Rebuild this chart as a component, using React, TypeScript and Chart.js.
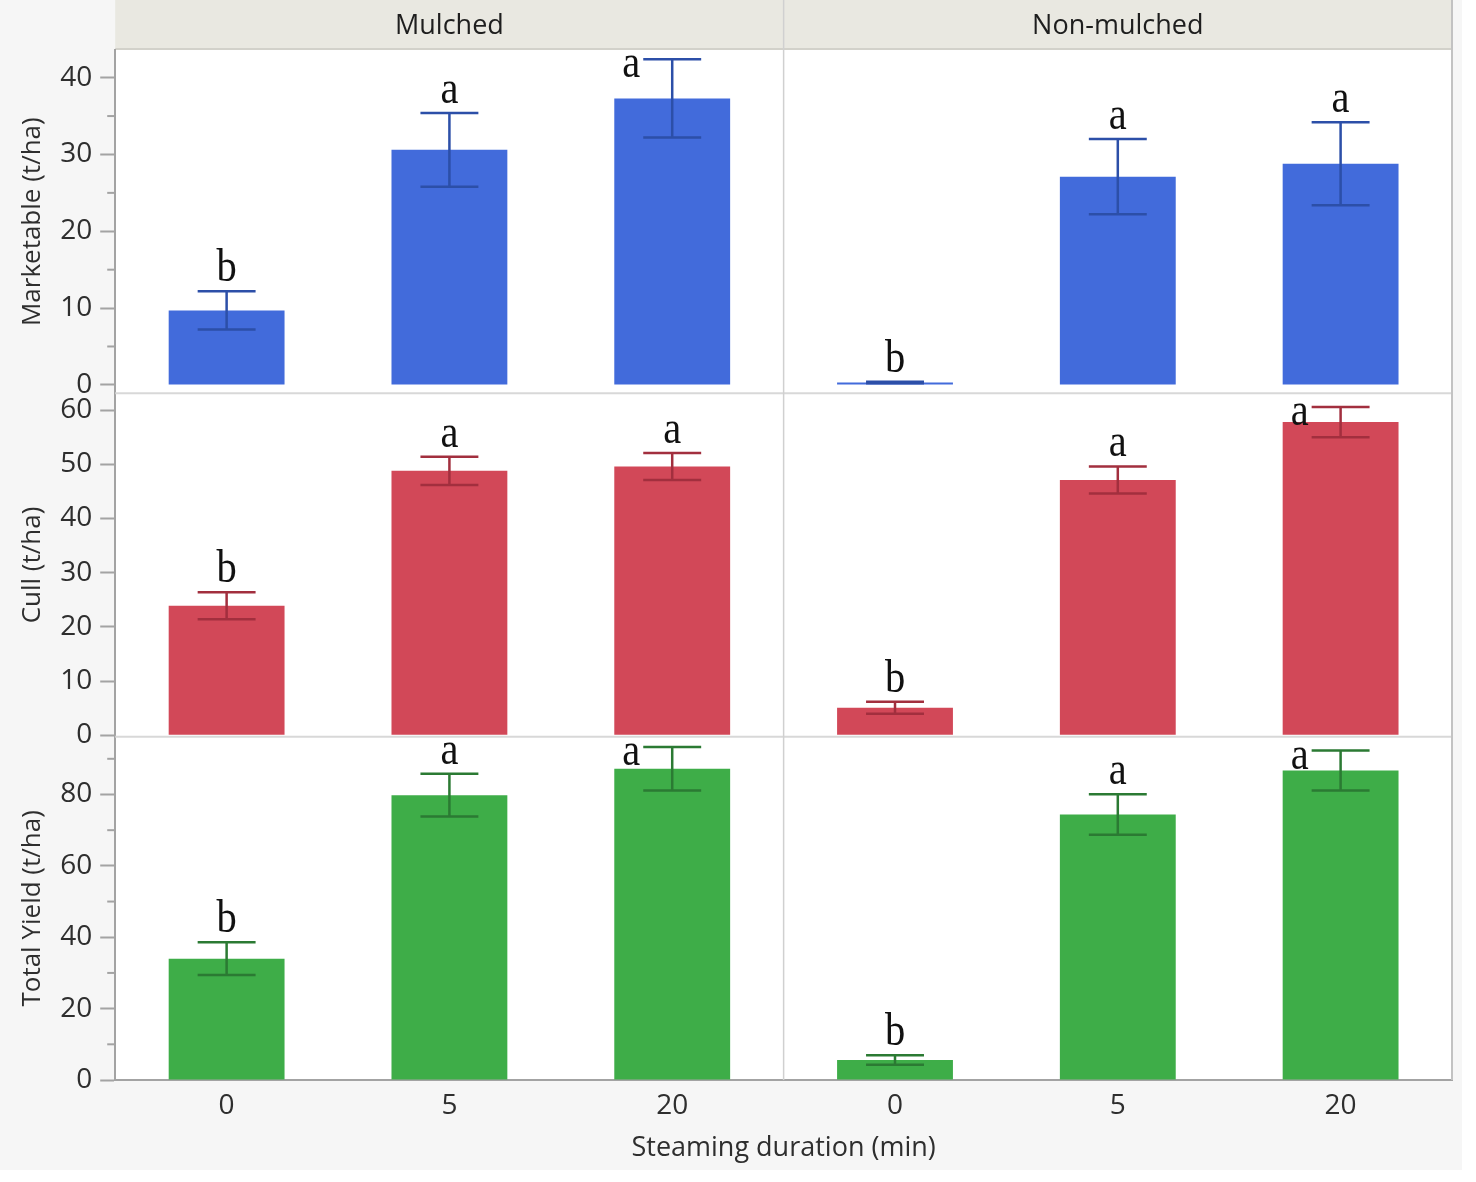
import { useEffect, useRef } from 'react';
import { Chart, registerables } from 'chart.js';

Chart.register(...registerables);

// steaming duration (min), three per mulch group
const durations = ['0', '5', '20', '0', '5', '20'];
const mulchGroups = ['Mulched', 'Non-mulched'];

const marketable = [9.7, 30.6, 37.3, 0.3, 27.1, 28.8];
const marketableSE = [2.5, 4.8, 5.1, 0.1, 4.9, 5.4];
const marketableLetters = ['b', 'a', 'a', 'b', 'a', 'a'];

const cull = [23.9, 48.8, 49.6, 5.1, 47.1, 57.8];
const cullSE = [2.5, 2.6, 2.5, 1.1, 2.5, 2.8];
const cullLetters = ['b', 'a', 'a', 'b', 'a', 'a'];

const totalYield = [34.0, 79.8, 87.2, 5.6, 74.4, 86.7];
const totalYieldSE = [4.6, 6.0, 6.1, 1.3, 5.7, 5.6];
const totalYieldLetters = ['b', 'a', 'a', 'b', 'a', 'a'];

const SANS = '"Open Sans", "Noto Sans", sans-serif';
const AXIS_GREY = '#a3a3a3';

const panelPlugin = {
  id: 'panelDecor',
  beforeDraw(chart: any) {
    const { ctx, chartArea: a, scales } = chart;
    const xs = scales.x;
    ctx.save();
    ctx.fillStyle = '#ffffff';
    ctx.fillRect(a.left, a.top, a.right - a.left, a.bottom - a.top);

    // facet header strip
    ctx.fillStyle = '#e9e8e1';
    ctx.fillRect(a.left, 0, a.right - a.left, a.top - 2);
    ctx.strokeStyle = '#d2d1ca';
    ctx.lineWidth = 2;
    ctx.beginPath();
    ctx.moveTo(a.left, a.top - 1);
    ctx.lineTo(a.right, a.top - 1);
    ctx.stroke();

    ctx.fillStyle = '#1e1e1e';
    ctx.font = `27px ${SANS}`;
    ctx.textAlign = 'center';
    ctx.textBaseline = 'middle';
    mulchGroups.forEach((g, i) => {
      const cx = (xs.getPixelForValue(i * 3) + xs.getPixelForValue(i * 3 + 2)) / 2;
      ctx.fillText(g, cx, (a.top - 2) / 2 + 2);
    });
    ctx.restore();
  },
  beforeDatasetsDraw(chart: any) {
    const { ctx, chartArea: a, scales } = chart;
    const xs = scales.x;
    ctx.save();
    ctx.strokeStyle = '#d8d8d8';
    ctx.lineWidth = 2;
    ['yCull', 'yTotal'].forEach((id) => {
      const y = scales[id].top;
      ctx.beginPath();
      ctx.moveTo(a.left, y);
      ctx.lineTo(a.right, y);
      ctx.stroke();
    });
    const mid = (xs.getPixelForValue(2) + xs.getPixelForValue(3)) / 2;
    ctx.strokeStyle = '#d0d0d0';
    ctx.lineWidth = 1.5;
    ctx.beginPath();
    ctx.moveTo(mid, 0);
    ctx.lineTo(mid, a.bottom);
    ctx.stroke();
    ctx.strokeStyle = '#c2c2c2';
    ctx.lineWidth = 2;
    ctx.beginPath();
    ctx.moveTo(a.right, 0);
    ctx.lineTo(a.right, a.bottom);
    ctx.stroke();
    ctx.restore();
  },
  afterDatasetsDraw(chart: any) {
    const { ctx, scales } = chart;
    chart.data.datasets.forEach((ds: any, i: number) => {
      const meta = chart.getDatasetMeta(i);
      const ys = scales[ds.yAxisID];
      meta.data.forEach((bar: any, j: number) => {
        const v = ds.data[j];
        const se = ds.se[j];
        const hi = ys.getPixelForValue(v + se);
        const lo = ys.getPixelForValue(v - se);
        const half = bar.width * 0.25;
        ctx.save();
        ctx.strokeStyle = ds.errColor;
        ctx.lineWidth = 2.5;
        ctx.beginPath();
        ctx.moveTo(bar.x, hi);
        ctx.lineTo(bar.x, lo);
        ctx.moveTo(bar.x - half, hi);
        ctx.lineTo(bar.x + half, hi);
        ctx.moveTo(bar.x - half, lo);
        ctx.lineTo(bar.x + half, lo);
        ctx.stroke();

        // significance letter; tucked beside the cap when it would leave the panel
        ctx.fillStyle = '#111111';
        ctx.font = '46px "Liberation Serif", "Times New Roman", serif';
        ctx.textBaseline = 'alphabetic';
        let tx = bar.x;
        let ty = hi - 10;
        if (hi - ys.top < 25) {
          ctx.textAlign = 'right';
          tx = bar.x - half - 3;
          ty = hi + 18;
        } else {
          ctx.textAlign = 'center';
        }
        ctx.translate(tx, ty);
        ctx.scale(0.88, 1);
        ctx.fillText(ds.letters[j], 0, 0);
        ctx.restore();
      });
    });
  },
  afterDraw(chart: any) {
    // short minor tick marks
    const { ctx, scales } = chart;
    ctx.save();
    ctx.strokeStyle = AXIS_GREY;
    ctx.lineWidth = 2;
    ['yMarket', 'yCull', 'yTotal'].forEach((id) => {
      const s = scales[id];
      s.ticks.forEach((t: any) => {
        if (t.value % s.options.labelEvery === 0) return;
        const y = s.getPixelForValue(t.value);
        ctx.beginPath();
        ctx.moveTo(s.right - 8, y);
        ctx.lineTo(s.right, y);
        ctx.stroke();
      });
    });
    ctx.restore();
  },
};

function yAxis(title: string, min: number, max: number, step: number, labelEvery: number, weight: number) {
  return {
    type: 'linear',
    position: 'left',
    stack: 'rows',
    stackWeight: 1,
    weight,
    min,
    max,
    labelEvery,
    border: { color: AXIS_GREY, width: 2 },
    grid: {
      drawOnChartArea: false,
      tickLength: 15,
      tickWidth: 2,
      tickColor: (c: any) => (c.tick && c.tick.value % labelEvery === 0 ? AXIS_GREY : 'transparent'),
    },
    ticks: {
      stepSize: step,
      includeBounds: false,
      autoSkip: false,
      padding: 8,
      color: '#2e2e2e',
      font: { family: SANS, size: 28 },
      callback: (v: number) => (v % labelEvery === 0 ? String(v) : ''),
    },
    title: {
      display: true,
      text: title,
      color: '#2e2e2e',
      font: { family: SANS, size: 26 },
      padding: { top: 17, bottom: 4 },
    },
  };
}

export default function App() {
  const canvasRef = useRef<HTMLCanvasElement>(null);

  useEffect(() => {
    if (!canvasRef.current) return;
    const chart = new Chart(canvasRef.current, {
      type: 'bar',
      data: {
        labels: durations,
        datasets: [
          {
            label: 'Marketable',
            data: marketable,
            se: marketableSE,
            letters: marketableLetters,
            yAxisID: 'yMarket',
            backgroundColor: '#426bdb',
            errColor: '#2c4fa8',
          },
          {
            label: 'Cull',
            data: cull,
            se: cullSE,
            letters: cullLetters,
            yAxisID: 'yCull',
            backgroundColor: '#d24858',
            errColor: '#a22f3e',
          },
          {
            label: 'Total Yield',
            data: totalYield,
            se: totalYieldSE,
            letters: totalYieldLetters,
            yAxisID: 'yTotal',
            backgroundColor: '#3ead48',
            errColor: '#2b7a33',
          },
        ] as any,
      },
      options: {
        animation: false,
        responsive: true,
        maintainAspectRatio: false,
        layout: { padding: { top: 50, right: 10, bottom: 1, left: 0 } },
        datasets: { bar: { grouped: false, barPercentage: 0.52, categoryPercentage: 1, borderWidth: 0 } },
        plugins: { legend: { display: false }, tooltip: { enabled: false } },
        scales: {
          x: {
            type: 'category',
            offset: true,
            border: { color: AXIS_GREY, width: 2 },
            grid: { display: true, drawOnChartArea: false, drawTicks: false },
            ticks: { padding: 9, color: '#2e2e2e', font: { family: SANS, size: 28 } },
            title: {
              display: true,
              text: 'Steaming duration (min)',
              color: '#2e2e2e',
              font: { family: SANS, size: 27 },
              padding: { top: 1, bottom: 4 },
            },
          },
          yMarket: yAxis('Marketable (t/ha)', -1.1, 43.6, 5, 10, 3),
          yCull: yAxis('Cull (t/ha)', -0.25, 63.1, 10, 10, 2),
          yTotal: yAxis('Total Yield (t/ha)', 0, 96.2, 10, 20, 1),
        } as any,
      },
      plugins: [panelPlugin],
    });
    return () => chart.destroy();
  }, []);

  return (
    <div style={{ position: 'absolute', left: 0, top: 0, width: 1462, height: 1170, background: '#f6f6f6' }}>
      <canvas ref={canvasRef} />
    </div>
  );
}
